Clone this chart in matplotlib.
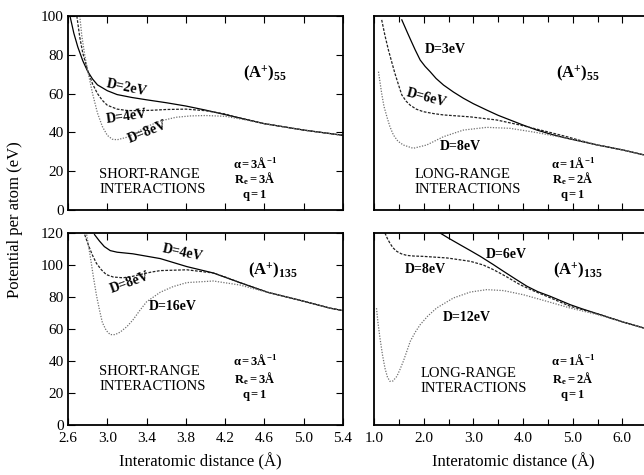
import matplotlib
matplotlib.use("Agg")
import matplotlib.pyplot as plt

plt.rcParams['font.family'] = ['Liberation Serif', 'DejaVu Serif']
plt.rcParams['mathtext.fontset'] = 'custom'
plt.rcParams['mathtext.rm'] = 'Liberation Serif'
plt.rcParams['mathtext.it'] = 'Liberation Serif:italic'
plt.rcParams['mathtext.bf'] = 'Liberation Serif:bold'

# ---- (A+)55, short range ----
sr55_x_2 = [2.62, 2.66, 2.70, 2.75, 2.80, 2.85, 2.90, 3.00, 3.10, 3.25, 3.40, 3.60, 3.80, 4.00, 4.30, 4.60, 5.00, 5.40]
sr55_y_2 = [100, 91, 84, 77, 71.5, 67.5, 64.5, 61.5, 59.5, 58, 56.8, 55.3, 53.6, 51.5, 48, 44.5, 41.2, 38.5]
sr55_x_4 = [2.69, 2.72, 2.75, 2.80, 2.85, 2.90, 2.95, 3.00, 3.10, 3.20, 3.30, 3.45, 3.60, 3.80, 4.00, 4.20, 4.30, 4.60, 5.00, 5.40]
sr55_y_4 = [100, 89, 81, 72, 65, 60, 56.5, 54, 52, 51.3, 51.2, 51.4, 51.8, 52, 51.2, 49.5, 48, 44.5, 41.2, 38.5]
sr55_x_8 = [2.72, 2.74, 2.77, 2.80, 2.85, 2.90, 2.95, 3.00, 3.05, 3.10, 3.20, 3.30, 3.40, 3.55, 3.70, 3.85, 4.00, 4.20, 4.40, 4.60, 5.00, 5.40]
sr55_y_8 = [100, 90, 80, 72, 60, 50, 43, 38.5, 36.5, 36.2, 37.5, 40, 43, 46, 47.8, 48.5, 48.7, 48.3, 46.5, 44.5, 41.2, 38.5]

# ---- (A+)55, long range ----
lr55_x_3 = [1.56, 1.62, 1.68, 1.75, 1.83, 1.93, 2.03, 2.13, 2.25, 2.40, 2.60, 2.80, 3.00, 3.27, 3.50, 3.74, 4.00, 4.28, 4.60, 4.88, 5.20, 5.50, 6.00, 6.50]
lr55_y_3 = [98, 94.5, 91, 87, 82.5, 77.3, 74, 71.3, 67.8, 64.4, 60.8, 57.6, 54.8, 51.5, 48.8, 46.4, 43.8, 41.2, 38.8, 37, 35.2, 33.5, 31, 28]
lr55_x_6 = [1.155, 1.22, 1.29, 1.36, 1.42, 1.50, 1.56, 1.65, 1.73, 1.85, 1.99, 2.20, 2.40, 2.94, 3.47, 3.94, 4.48, 4.88, 5.20, 5.50, 6.00, 6.50]
lr55_y_6 = [98, 90, 82.5, 76, 70.5, 64, 59.3, 56, 54, 52, 50.7, 49.7, 49, 48, 46.4, 43.8, 40.4, 37.8, 35.5, 33.5, 31, 28]
lr55_x_8 = [1.09, 1.155, 1.20, 1.26, 1.32, 1.39, 1.48, 1.59, 1.79, 2.06, 2.40, 2.80, 3.27, 3.74, 4.28, 4.88, 5.20, 5.50, 6.00, 6.50]
lr55_y_8 = [71.3, 60, 53.5, 48, 43, 38.7, 35.5, 33.5, 31.8, 33.5, 37.8, 41.2, 42.6, 42.1, 39.9, 37, 35.3, 33.5, 31, 28]

# ---- (A+)135, short range ----
sr135_x_4 = [2.87, 2.92, 2.97, 3.03, 3.10, 3.26, 3.54, 3.81, 4.08, 4.35, 4.63, 4.96, 5.27, 5.40]
sr135_y_4 = [119, 115, 111.5, 109, 108, 107, 104, 99, 95, 89, 83, 78, 73, 71.5]
sr135_x_8 = [2.77, 2.81, 2.85, 2.89, 2.94, 2.99, 3.06, 3.16, 3.25, 3.33, 3.45, 3.54, 3.81, 4.08, 4.20, 4.35, 4.63, 4.96, 5.27, 5.40]
sr135_y_8 = [119, 112, 106, 101, 97, 94, 92.5, 92, 92.8, 94, 95.6, 96.5, 97, 95, 92.5, 89, 83, 78, 73, 71.5]
sr135_x_16 = [2.79, 2.83, 2.86, 2.89, 2.92, 2.95, 2.99, 3.03, 3.08, 3.13, 3.20, 3.26, 3.33, 3.40, 3.54, 3.67, 3.81, 4.08, 4.35, 4.50, 4.63, 4.96, 5.27, 5.40]
sr135_y_16 = [119, 104, 92, 81, 72, 64, 59, 56.5, 56.5, 58, 61.5, 65.6, 71.5, 77, 83, 86.5, 89, 90, 87.5, 85, 83, 78, 73, 71.5]

# ---- (A+)135, long range ----
lr135_x_6 = [2.33, 2.50, 2.73, 2.94, 3.14, 3.40, 3.61, 3.85, 4.08, 4.30, 4.55, 4.75, 4.95, 5.20, 5.50, 6.00, 6.50]
lr135_y_6 = [120, 116.8, 112.7, 109, 105.4, 100.3, 96, 91.2, 86.7, 83.3, 80.4, 77.8, 75.2, 72.5, 69.5, 64.5, 60]
lr135_x_8 = [1.22, 1.27, 1.32, 1.38, 1.46, 1.55, 1.66, 1.80, 1.99, 2.47, 2.94, 3.20, 3.41, 3.65, 3.94, 4.20, 4.48, 4.95, 5.50, 6.00, 6.50]
lr135_y_8 = [120, 116.5, 113.7, 110.8, 108.5, 107, 106, 105.6, 105.4, 104.4, 102.3, 100, 97, 93, 87.7, 84, 80.4, 74.2, 69.5, 64.5, 60]
lr135_x_12 = [1.05, 1.08, 1.12, 1.17, 1.22, 1.27, 1.32, 1.38, 1.46, 1.52, 1.59, 1.66, 1.73, 1.83, 1.93, 2.08, 2.26, 2.60, 2.94, 3.27, 3.61, 4.01, 4.48, 4.95, 5.50, 6.00, 6.50]
lr135_y_12 = [73, 64, 54.4, 44, 35.6, 30, 27.3, 27.5, 30.4, 34.5, 39.8, 46, 52.3, 58, 62.7, 68, 73.1, 79.4, 83.1, 84.6, 84, 81.4, 77.3, 73.1, 69, 64.5, 60]

W, H = 644, 475
fig = plt.figure(figsize=(W / 100, H / 100), dpi=100)

def px_box(x0, x1, ytop, ybot):
    return [x0 / W, 1 - ybot / H, (x1 - x0) / W, (ybot - ytop) / H]

ax_tl = fig.add_axes(px_box(68, 343, 16, 210))
ax_tr = fig.add_axes(px_box(374, 672, 16, 210))
ax_bl = fig.add_axes(px_box(68, 343, 233, 425))
ax_br = fig.add_axes(px_box(374, 672, 233, 425))

solid = dict(color='black', lw=0.9, ls='-')
dashed = dict(color='#222222', lw=0.9, ls=(0, (2.2, 1.2)))
dotted = dict(color='#707070', lw=0.9, ls=(0, (1, 1.2)))

ax_tl.plot(sr55_x_2, sr55_y_2, **solid)
ax_tl.plot(sr55_x_4, sr55_y_4, **dashed)
ax_tl.plot(sr55_x_8, sr55_y_8, **dotted)

ax_tr.plot(lr55_x_3, lr55_y_3, **solid)
ax_tr.plot(lr55_x_6, lr55_y_6, **dashed)
ax_tr.plot(lr55_x_8, lr55_y_8, **dotted)

ax_bl.plot(sr135_x_4, sr135_y_4, **solid)
ax_bl.plot(sr135_x_8, sr135_y_8, **dashed)
ax_bl.plot(sr135_x_16, sr135_y_16, **dotted)

ax_br.plot(lr135_x_6, lr135_y_6, **solid)
ax_br.plot(lr135_x_8, lr135_y_8, **dashed)
ax_br.plot(lr135_x_12, lr135_y_12, **dotted)

left_ticks = [2.6, 3.0, 3.4, 3.8, 4.2, 4.6, 5.0, 5.4]
right_ticks = [1.0, 2.0, 3.0, 4.0, 5.0, 6.0]

for ax in (ax_tl, ax_bl):
    ax.set_xlim(2.6, 5.4)
    ax.set_xticks(left_ticks)
for ax in (ax_tr, ax_br):
    ax.set_xlim(1.0, 7.0)
    ax.set_xticks(right_ticks)
    ax.set_xticks([1.5, 2.5, 3.5, 4.5, 5.5, 6.5], minor=True)
for ax in (ax_tl, ax_tr):
    ax.set_ylim(0, 100)
    ax.set_yticks([0, 20, 40, 60, 80, 100])
    ax.set_xticklabels([])
for ax in (ax_bl, ax_br):
    ax.set_ylim(0, 120)
    ax.set_yticks([0, 20, 40, 60, 80, 100, 120])
    ax.set_xticklabels(['%.1f' % t for t in ax.get_xticks()])

for ax in (ax_tl, ax_tr, ax_bl, ax_br):
    ax.tick_params(which='both', direction='in', top=True, right=True, labelsize=11, length=5, width=0.8, pad=3)
    ax.tick_params(axis='x', pad=5)
    ax.tick_params(which='minor', length=4)
    for s in ax.spines.values():
        s.set_linewidth(1.3)
for ax in (ax_tr, ax_br):
    ax.tick_params(axis='y', left=False, labelleft=False)

lbl = dict(fontsize=10, fontweight='bold', ha='center', va='center')
ax_tl.text(3.2, 63, 'D=2eV', rotation=-12, **lbl)
ax_tl.text(3.2, 48, 'D=4eV', rotation=8, **lbl)
ax_tl.text(3.41, 40, 'D=8eV', rotation=22, **lbl)

ax_tr.text(2.43, 82.5, 'D=3eV', **lbl)
ax_tr.text(2.06, 57.6, 'D=6eV', rotation=-15, **lbl)
ax_tr.text(2.73, 32.6, 'D=8eV', **lbl)

ax_bl.text(3.77, 107.5, 'D=4eV', rotation=-12, **lbl)
ax_bl.text(3.23, 89, 'D=8eV', rotation=20, **lbl)
ax_bl.text(3.67, 74, 'D=16eV', **lbl)

ax_br.text(3.67, 106.5, 'D=6eV', **lbl)
ax_br.text(2.03, 97, 'D=8eV', **lbl)
ax_br.text(2.87, 67, 'D=12eV', **lbl)

ax_tl.text(4.6, 70.6, r'$\mathbf{(A^{+})_{55}}$', fontsize=12, ha='center', va='center')
ax_tr.text(5.1, 70.6, r'$\mathbf{(A^{+})_{55}}$', fontsize=12, ha='center', va='center')
ax_bl.text(4.68, 97, r'$\mathbf{(A^{+})_{135}}$', fontsize=12, ha='center', va='center')
ax_br.text(5.1, 97, r'$\mathbf{(A^{+})_{135}}$', fontsize=12, ha='center', va='center')

par = dict(fontsize=9, ha='center', va='center')
ax_tl.text(4.5, 24, r'$\mathbf{\alpha{=}3Å^{-1}}$', **par)
ax_tl.text(4.5, 16, r'$\mathbf{R_e{=}3Å}$', **par)
ax_tl.text(4.5, 7.5, r'$\mathbf{q{=}1}$', **par)
ax_tr.text(5.0, 24, r'$\mathbf{\alpha{=}1Å^{-1}}$', **par)
ax_tr.text(5.0, 16, r'$\mathbf{R_e{=}2Å}$', **par)
ax_tr.text(5.0, 7.5, r'$\mathbf{q{=}1}$', **par)
ax_bl.text(4.5, 40.2, r'$\mathbf{\alpha{=}3Å^{-1}}$', **par)
ax_bl.text(4.5, 29.2, r'$\mathbf{R_e{=}3Å}$', **par)
ax_bl.text(4.5, 18.6, r'$\mathbf{q{=}1}$', **par)
ax_br.text(5.0, 40.2, r'$\mathbf{\alpha{=}1Å^{-1}}$', **par)
ax_br.text(5.0, 29.2, r'$\mathbf{R_e{=}2Å}$', **par)
ax_br.text(5.0, 18.6, r'$\mathbf{q{=}1}$', **par)

rng = dict(fontsize=10.5, ha='left', va='center', linespacing=1.2)
ax_tl.text(2.92, 14.5, 'SHORT-RANGE\nINTERACTIONS', **rng)
ax_tr.text(1.81, 14.5, 'LONG-RANGE\nINTERACTIONS', **rng)
ax_bl.text(2.92, 29, 'SHORT-RANGE\nINTERACTIONS', **rng)
ax_br.text(1.93, 27.5, 'LONG-RANGE\nINTERACTIONS', **rng)

fig.text(15 / W, 1 - 220 / H, 'Potential per atom (eV)', rotation=90, fontsize=12, ha='center', va='center')
fig.text(200 / W, 1 - 462 / H, 'Interatomic distance (Å)', fontsize=12, ha='center', va='center')
fig.text(513 / W, 1 - 462 / H, 'Interatomic distance (Å)', fontsize=12, ha='center', va='center')

fig.savefig('out.png', dpi=100)
